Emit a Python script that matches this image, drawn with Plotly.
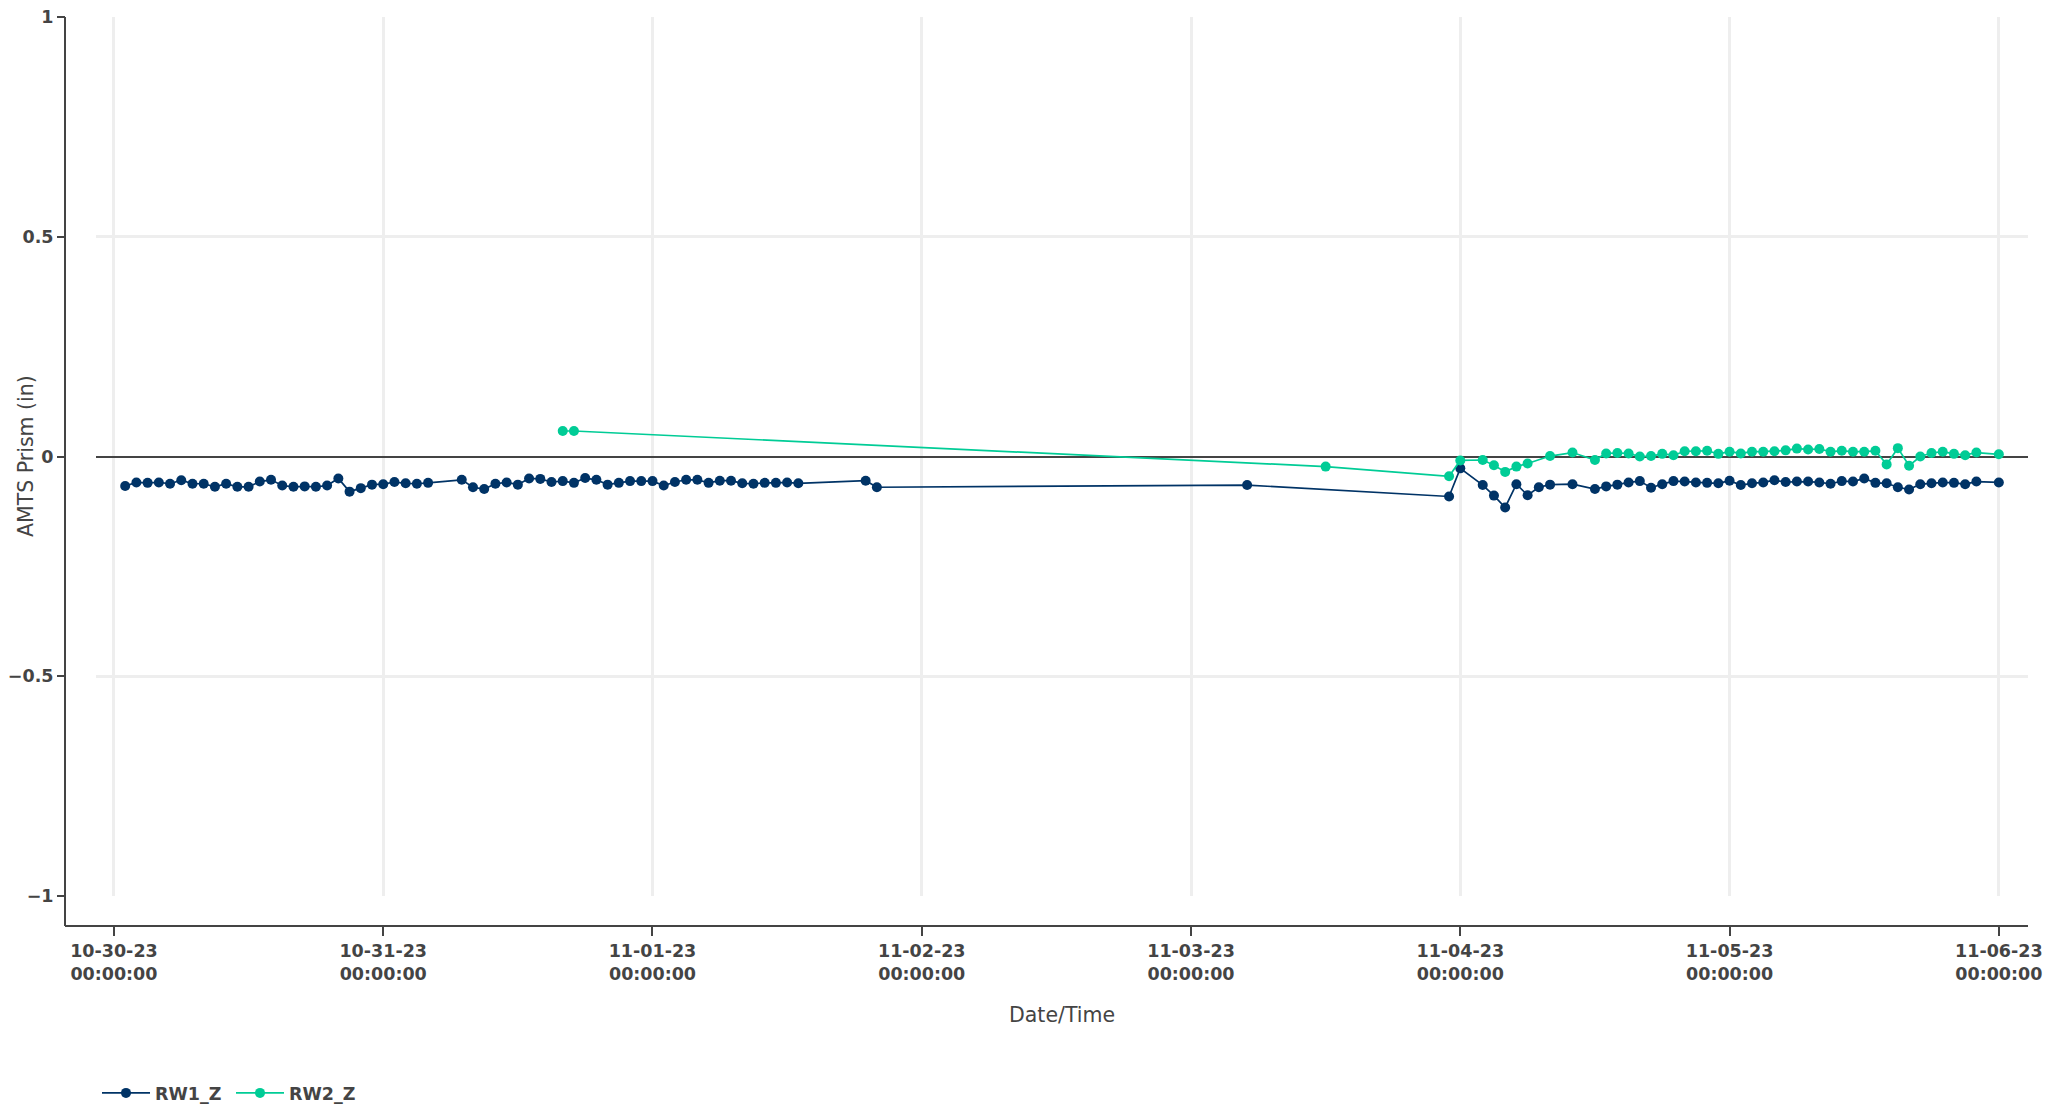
import pandas as pd
import plotly.graph_objects as go

START = pd.Timestamp("2023-10-30 00:00:00")

# Hours after 10-30-23 00:00:00 at which each series was sampled
rw1_hours = [1, 2, 3, 4, 5, 6, 7, 8, 9, 10, 11, 12, 13, 14, 15, 16, 17, 18, 19, 20,
             21, 22, 23, 24, 25, 26, 27, 28,
             31, 32, 33, 34, 35, 36, 37, 38, 39, 40, 41, 42, 43, 44, 45, 46, 47, 48,
             49, 50, 51, 52, 53, 54, 55, 56, 57, 58, 59, 60, 61,
             67, 68, 101, 119, 120,
             122, 123, 124, 125, 126, 127, 128, 130,
             132, 133, 134, 135, 136, 137, 138, 139, 140, 141, 142, 143, 144, 145, 146,
             147, 148, 149, 150, 151, 152, 153, 154, 155, 156, 157, 158, 159, 160, 161,
             162, 163, 164, 165, 166, 168]
rw1_values = [-0.067, -0.059, -0.060, -0.059, -0.062, -0.054, -0.062, -0.062, -0.069, -0.062,
              -0.069, -0.069, -0.057, -0.053, -0.066, -0.069, -0.068, -0.069, -0.066, -0.050,
              -0.080, -0.072, -0.064, -0.063, -0.058, -0.061, -0.062, -0.060,
              -0.053, -0.070, -0.074, -0.062, -0.059, -0.064, -0.050, -0.051, -0.058, -0.056,
              -0.060, -0.049, -0.053, -0.064, -0.060, -0.056, -0.056, -0.056, -0.066, -0.058,
              -0.053, -0.053, -0.060, -0.055, -0.055, -0.061, -0.062, -0.060, -0.060, -0.059,
              -0.061,
              -0.055, -0.070, -0.065, -0.091, -0.027,
              -0.065, -0.089, -0.116, -0.063, -0.088, -0.070, -0.064, -0.063,
              -0.074, -0.068, -0.064, -0.059, -0.056, -0.071, -0.063, -0.056, -0.057, -0.059,
              -0.060, -0.061, -0.055, -0.065, -0.061, -0.059, -0.054, -0.058, -0.057, -0.057,
              -0.059, -0.062, -0.056, -0.057, -0.050, -0.060, -0.061, -0.070, -0.075, -0.063,
              -0.061, -0.059, -0.060, -0.063, -0.057, -0.059]

rw2_hours = [40, 41, 108, 119, 120,
             122, 123, 124, 125, 126, 128, 130,
             132, 133, 134, 135, 136, 137, 138, 139, 140, 141, 142, 143, 144, 145, 146,
             147, 148, 149, 150, 151, 152, 153, 154, 155, 156, 157, 158, 159, 160, 161,
             162, 163, 164, 165, 166, 168]
rw2_values = [0.058, 0.058, -0.023, -0.045, -0.009,
              -0.008, -0.020, -0.035, -0.023, -0.016, 0.001, 0.009,
              -0.008, 0.007, 0.008, 0.007, 0.000, 0.001, 0.006, 0.003, 0.012, 0.012,
              0.013, 0.006, 0.011, 0.007, 0.011, 0.011, 0.012, 0.014, 0.018, 0.016,
              0.017, 0.011, 0.013, 0.011, 0.011, 0.013, -0.018, 0.019, -0.021, 0.000,
              0.008, 0.011, 0.006, 0.003, 0.009, 0.005]

tick_days = ["2023-10-30", "2023-10-31", "2023-11-01", "2023-11-02",
             "2023-11-03", "2023-11-04", "2023-11-05", "2023-11-06"]
tick_text = ["10-30-23<br>00:00:00", "10-31-23<br>00:00:00", "11-01-23<br>00:00:00",
             "11-02-23<br>00:00:00", "11-03-23<br>00:00:00", "11-04-23<br>00:00:00",
             "11-05-23<br>00:00:00", "11-06-23<br>00:00:00"]
y_ticks = [-1, -0.5, 0, 0.5, 1]
y_ticktext = ["\u22121", "\u22120.5", "0", "0.5", "1"]

rw1_t = [START + pd.Timedelta(hours=h) for h in rw1_hours]
rw2_t = [START + pd.Timedelta(hours=h) for h in rw2_hours]

NAVY = "#003366"
GREEN = "#00CC96"
AX = "#444444"
FONT = "DejaVu Sans"

W, H = 2071, 1109
ML, MR, MT, MB = 65, 43, 17, 183
PW, PH = W - ML - MR, H - MT - MB

def px_x(px):
    return (px - ML) / PW

def px_y(py):
    return (H - MB - py) / PH

fig = go.Figure()
fig.add_trace(go.Scatter(x=rw1_t, y=rw1_values, name="RW1_Z", mode="lines+markers",
                         line=dict(color=NAVY, width=1.7), marker=dict(color=NAVY, size=10)))
fig.add_trace(go.Scatter(x=rw2_t, y=rw2_values, name="RW2_Z", mode="lines+markers",
                         line=dict(color=GREEN, width=1.7), marker=dict(color=GREEN, size=10)))

x_range = [START - pd.Timedelta(hours=1.6), START + pd.Timedelta(hours=170.6)]
minor_vals = pd.date_range(START, START + pd.Timedelta(days=7), freq="6h")

BOLD = dict(family=FONT, size=17.5, color=AX, weight="bold")

fig.update_layout(
    width=W, height=H,
    margin=dict(l=ML, r=MR, t=MT, b=MB, autoexpand=False),
    plot_bgcolor="white", paper_bgcolor="white",
    font=dict(family=FONT, color=AX),
    showlegend=True,
    legend=dict(orientation="h", xref="container", yref="container",
                x=97 / W, y=1 - 1093 / H, xanchor="left", yanchor="middle",
                itemwidth=48, entrywidth=71, entrywidthmode="pixels", font=BOLD),
    xaxis=dict(type="date", range=x_range, domain=[px_x(96), 1], anchor="free", position=0,
               automargin=False,
               tickvals=tick_days, ticktext=tick_text, ticks="outside", ticklen=9,
               tickwidth=2, tickcolor=AX, showgrid=True, gridcolor="#eeeeee", gridwidth=3,
               showline=False, zeroline=False, tickfont=BOLD),
    xaxis2=dict(type="date", range=x_range, domain=[px_x(96), 1], anchor="free", position=0,
                overlaying="x", tickvals=list(minor_vals), ticks="inside", ticklen=7,
                tickwidth=2, tickcolor=AX, showticklabels=False, showgrid=False,
                showline=False, zeroline=False, automargin=False),
    yaxis=dict(range=[-1, 1], domain=[px_y(896), 1], anchor="free", position=0,
               automargin=False,
               tickvals=y_ticks, ticktext=y_ticktext, ticks="outside", ticklen=8,
               tickwidth=2, tickcolor=AX, showgrid=True, gridcolor="#eeeeee", gridwidth=3,
               showline=False, zeroline=True, zerolinecolor=AX, zerolinewidth=2,
               tickfont=BOLD),
    shapes=[
        dict(type="line", xref="paper", yref="paper", x0=0, x1=1, y0=0, y1=0,
             line=dict(color=AX, width=2), layer="above"),
        dict(type="line", xref="paper", yref="paper", x0=0, x1=0, y0=0, y1=1,
             line=dict(color=AX, width=2), layer="above"),
    ],
    annotations=[
        dict(text="AMTS Prism (in)", xref="paper", yref="paper", x=px_x(26), y=px_y(456),
             xanchor="center", yanchor="middle", textangle=-90, showarrow=False,
             font=dict(family=FONT, size=20.5, color=AX)),
        dict(text="Date/Time", xref="paper", yref="paper", x=px_x(1062), y=px_y(1015),
             xanchor="center", yanchor="middle", showarrow=False,
             font=dict(family=FONT, size=20.5, color=AX)),
    ],
)

PAGE_JS = (
    "document.documentElement.style.margin='0';"
    "document.documentElement.style.padding='0';"
    "document.documentElement.style.overflow='hidden';"
    "document.body.style.margin='0';"
    "document.body.style.padding='0';"
    "document.body.style.overflow='hidden';"
)

fig.write_html("out.html", config={"displayModeBar": False}, post_script=PAGE_JS)
